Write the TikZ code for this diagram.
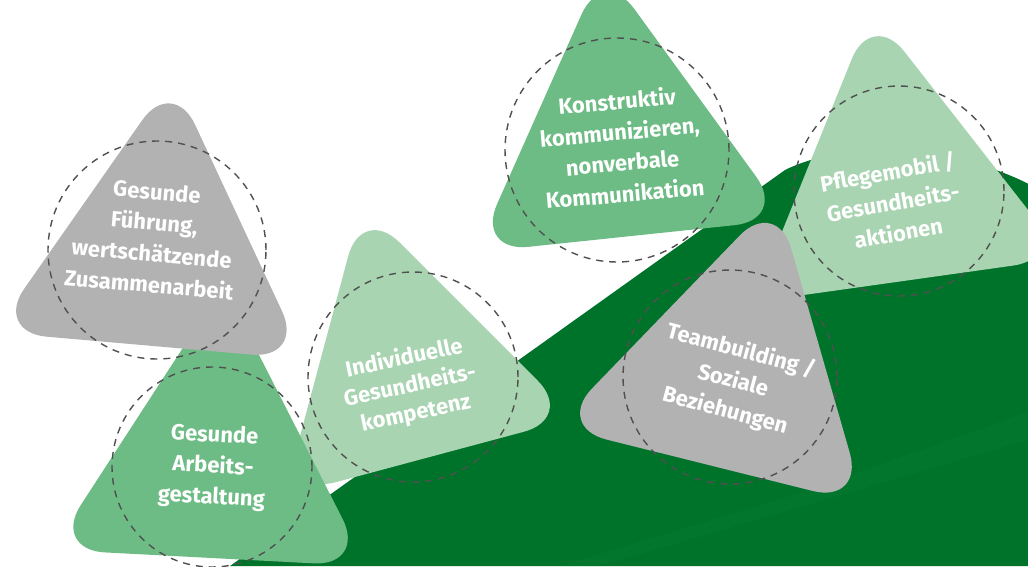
\documentclass[tikz,border=0pt]{standalone}
\usepackage{fontspec}
\setmainfont{Fira Sans}
\definecolor{hillgreen}{HTML}{00732B}
\definecolor{streakgreen}{HTML}{0A8236}
\definecolor{midgreen}{HTML}{6EBC85}
\definecolor{palegreen}{HTML}{A8D4B1}
\definecolor{stonegrey}{HTML}{B2B2B2}
\definecolor{dashgrey}{HTML}{505050}
\tikzset{
  ring/.style={circle, draw=dashgrey, line width=1.4pt, dash pattern=on 7pt off 6pt, inner sep=0pt},
  theme/.style={text=white, font=\bfseries\fontsize{22}{31}\selectfont, align=center},
}
\begin{document}
\begin{tikzpicture}[x=1pt,y=-1pt]
  \useasboundingbox (0,0) rectangle (1028,566);
  \clip (0,0) rectangle (1028,566);
  % hill
  \fill[hillgreen] (230,566) -- (785,170) .. controls (850,138) and (960,145) .. (1040,190) -- (1040,566) -- cycle;
  \fill[streakgreen, opacity=0.25] (600,566) -- (1028,440) -- (1028,412) -- (800,493) -- (560,566) -- cycle;
  % triangles, back to front
  \foreach \cx/\cy/\rot/\rad/\col in {407/373/15/174/palegreen, 214/467/-3/182/midgreen,
      157/256/-5/180/stonegrey, 622/146/6/181/midgreen, 897/190/8/182/palegreen,
      732/376/-14/184/stonegrey}{
    \begin{scope}[shift={(\cx,\cy)},rotate=\rot]
      \fill[\col, rounded corners=53pt] (-90:\rad) -- (30:\rad) -- (150:\rad) -- cycle;
    \end{scope}
  }
  % dashed rings
  \node[ring, minimum size=210pt] (ringkomp) at (413,377) {};
  \node[ring, minimum size=200pt] (ringarb) at (212,467) {};
  \node[ring, minimum size=218pt] (ringfuehr) at (157,250) {};
  \node[ring, minimum size=224pt] (ringkomm) at (617,150) {};
  \node[ring, minimum size=210pt] (ringpflege) at (899,191) {};
  \node[ring, minimum size=214pt] (ringteam) at (730,377) {};
  % texts
  \node[theme, rotate=-5] (fuehr) at (153,238) {Gesunde\\Führung,\\wertschätzende\\Zusammenarbeit};
  \node[theme, rotate=-3] (arb) at (213,467) {Gesunde\\Arbeits-\\gestaltung};
  \node[theme, rotate=12, font=\bfseries\fontsize{22}{28}\selectfont] (komp) at (410,386) {Individuelle\\Gesundheits-\\kompetenz};
  \node[theme, rotate=5] (komm) at (621,147) {Konstruktiv\\kommunizieren,\\nonverbale\\Kommunikation};
  \node[theme, rotate=10] (pflege) at (893,202) {Pflegemobil /\\Gesundheits-\\aktionen};
  \node[theme, rotate=-15] (team) at (733,381) {Teambuilding /\\Soziale\\Beziehungen};
\end{tikzpicture}
\end{document}
